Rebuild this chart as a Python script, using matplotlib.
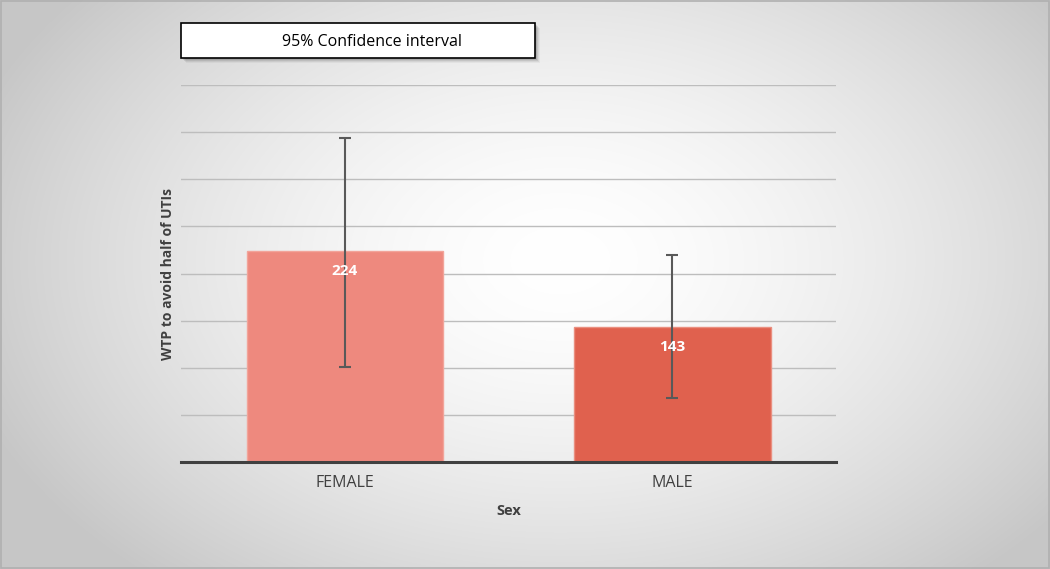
import numpy as np
import matplotlib
matplotlib.use("Agg")
import matplotlib.pyplot as plt
from matplotlib.patches import Rectangle

categories = ["FEMALE", "MALE"]
values = [224, 143]
ci_low = [101, 68]
ci_high = [344, 220]
bar_colors = ["#EE897E", "#E0614E"]

plt.rcParams['font.family'] = ['Open Sans', 'DejaVu Sans']

fig = plt.figure(figsize=(10.5, 5.69), dpi=100)

# radial gradient background
bg = fig.add_axes([0, 0, 1, 1], zorder=-10)
W, H = 1050, 569
yy, xx = np.mgrid[0:H, 0:W]
cx, cy = 560, 260
d = np.sqrt(((xx - cx) / 620.0) ** 2 + ((yy - cy) / 420.0) ** 2)
t = np.clip(d, 0, 1) ** 1.6
lo, hi = 1.0, 0.78
g = hi + (lo - hi) * (1 - t)
img = np.dstack([g, g, g])
bg.imshow(img, extent=[0, W, H, 0], aspect='auto')
bg.set_xlim(0, W)
bg.set_ylim(H, 0)
bg.axis('off')
bg.add_patch(Rectangle((0.5, 0.5), W - 1.5, H - 1.5, fill=False, ec="#b0b0b0", lw=1.2))

ax = fig.add_axes([181 / W, (H - 462) / H, 655 / W, 377 / H])
ax.patch.set_alpha(0)
x = np.arange(len(categories))
ax.bar(x, values, width=0.6, color=bar_colors, edgecolor=["#F2A49A", "#EA8F80"], linewidth=1, zorder=2)
yerr = [np.array(values) - np.array(ci_low), np.array(ci_high) - np.array(values)]
ax.errorbar(x, values, yerr=yerr, fmt='none', ecolor="#595959", elinewidth=1.5, capsize=4, capthick=1.5, zorder=3)
for xi, v in zip(x, values):
    ax.annotate(str(v), (xi, v), xytext=(0, -20), textcoords='offset pixels',
                ha='center', va='center', color='white', fontsize=11, fontweight='bold', zorder=4)

ax.set_xlim(-0.5, 1.5)
ax.set_ylim(0, 400)
ax.set_yticks(np.arange(0, 401, 50))
ax.yaxis.grid(True, color="#BDBDBD", linewidth=1)
ax.set_axisbelow(True)
ax.tick_params(axis='y', left=False, labelleft=False)
ax.tick_params(axis='x', bottom=False, labelsize=11.5, labelcolor="#404040", pad=6)
ax.set_xticks(x)
ax.set_xticklabels(categories)
for s in ['top', 'right', 'left']:
    ax.spines[s].set_visible(False)
ax.spines['bottom'].set_color("#404040")
ax.spines['bottom'].set_linewidth(2.2)
ax.set_xlabel("Sex", fontsize=10.5, fontweight='bold', color="#404040", labelpad=9)
ax.set_ylabel("WTP to avoid half of UTIs", fontsize=10, fontweight='bold', color="#404040", labelpad=4)

# title box with shadow
box_ax = fig.add_axes([0, 0, 1, 1], zorder=5)
box_ax.set_xlim(0, W)
box_ax.set_ylim(H, 0)
box_ax.axis('off')
for k, a in enumerate([0.10, 0.08, 0.06, 0.04]):
    off = 2 + k
    box_ax.add_patch(Rectangle((181 + off, 23 + off), 354, 35, fc='black', ec='none', alpha=a))
box_ax.add_patch(Rectangle((181, 23), 354, 35, fc='white', ec='black', lw=1.2))
box_ax.text(372, 41.5, "95% Confidence interval", ha='center', va='center', fontsize=11.5, color='black')

fig.savefig("out.png", dpi=100)
